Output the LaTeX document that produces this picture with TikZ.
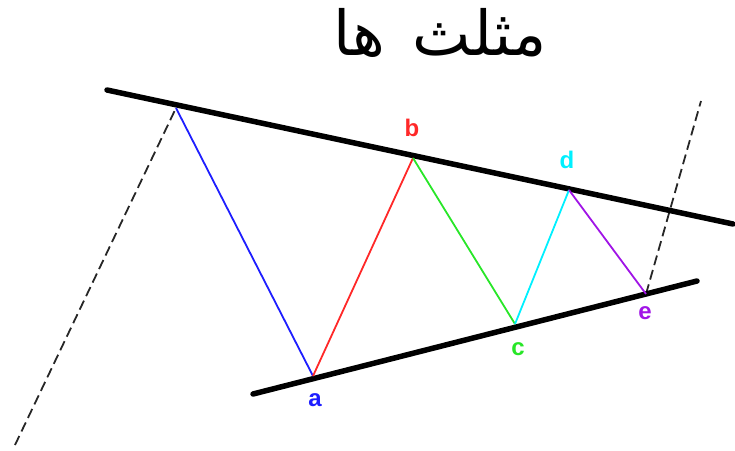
\documentclass[tikz,border=0pt]{standalone}
\usepackage{fontspec}
\setmainfont{Liberation Sans}
\newfontfamily\arabicfont[Script=Arabic]{DejaVu Sans}
\TeXXeTstate=1
\definecolor{cblue}{RGB}{30,30,255}
\definecolor{cred}{RGB}{255,40,40}
\definecolor{cgreen}{RGB}{40,230,40}
\definecolor{ccyan}{RGB}{0,240,255}
\definecolor{cpurple}{RGB}{160,20,230}
\tikzset{
  bound/.style={line width=5.5pt, black, line cap=round},
  leg/.style={line width=1.8pt},
  guide/.style={line width=1.8pt, black!85, dash pattern=on 10pt off 5pt},
  lbl/.style={font=\fontsize{24}{24}\selectfont\bfseries, inner sep=0pt}
}
\begin{document}
\begin{tikzpicture}[x=1pt,y=-1pt]
\useasboundingbox (0,0) rectangle (735,450);
\node[font=\arabicfont\fontsize{62}{62}\selectfont] (title) at (440,33) {\beginR مثلث\hspace{8pt} ها\endR};
\coordinate (t1) at (107,90);
\coordinate (t2) at (733,224);
\coordinate (b1) at (253,394);
\coordinate (b2) at (697,281);
\coordinate (s) at (176,108);
\coordinate (a) at (313,376);
\coordinate (b) at (413,158);
\coordinate (c) at (515,324);
\coordinate (d) at (569,190);
\coordinate (e) at (646,294);
\coordinate (g1) at (15,445);
\coordinate (g2) at (701,101);
\draw[guide] (g1) -- (s);
\draw[guide] (e) -- (g2);
\draw[bound] (t1) -- (t2);
\draw[bound] (b1) -- (b2);
\draw[leg, cblue] (s) -- (a);
\draw[leg, cred] (a) -- (b);
\draw[leg, cgreen] (b) -- (c);
\draw[leg, ccyan] (c) -- (d);
\draw[leg, cpurple] (d) -- (e);
\node[lbl, text=cblue] (la) at (315,400) {a};
\node[lbl, text=cred] (lb) at (412,128) {b};
\node[lbl, text=cgreen] (lc) at (518,349) {c};
\node[lbl, text=ccyan] (ld) at (567,160) {d};
\node[lbl, text=cpurple] (le) at (645,313) {e};
\end{tikzpicture}
\end{document}
